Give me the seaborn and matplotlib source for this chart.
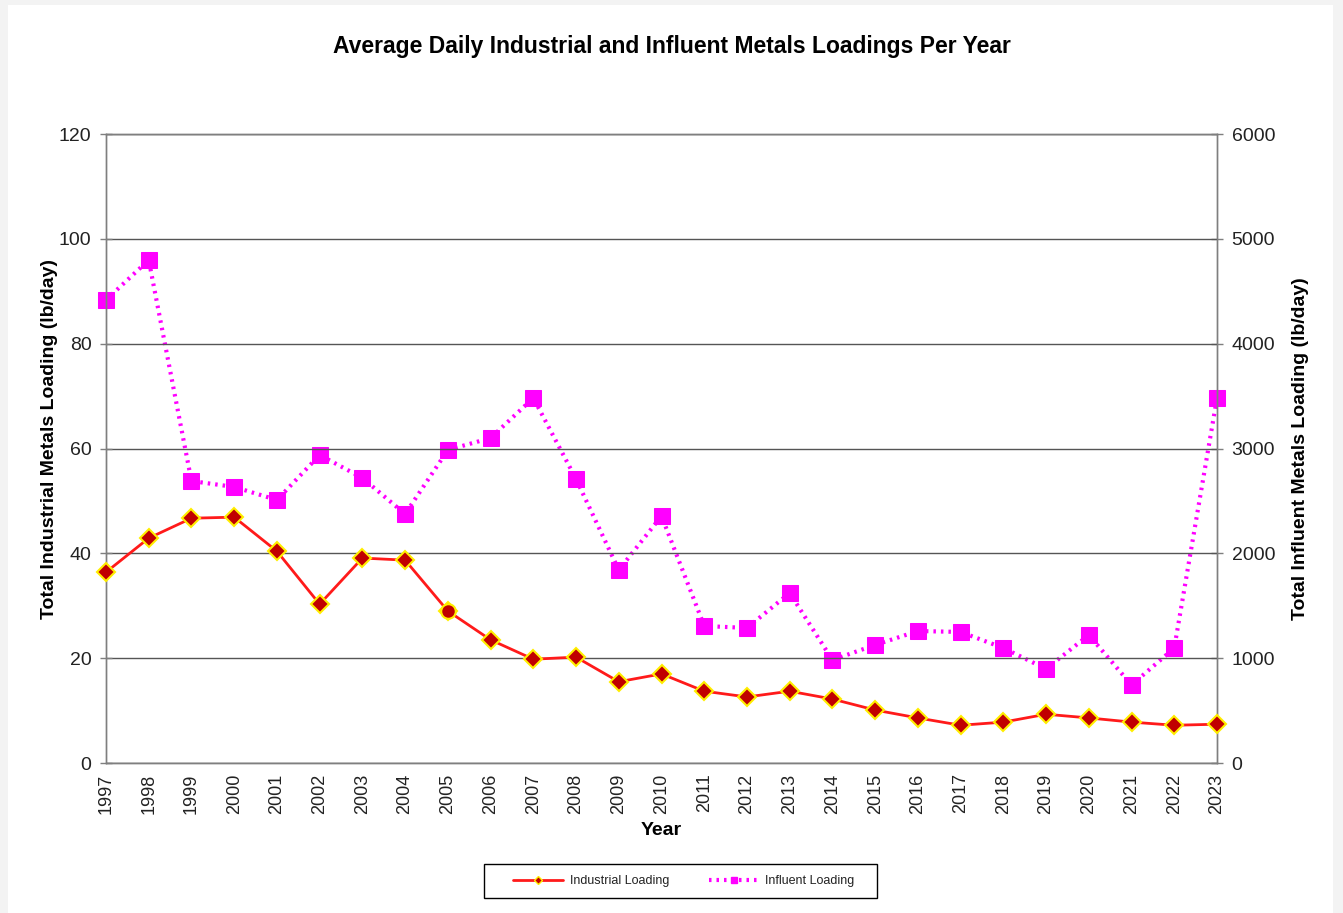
import numpy as np
import pandas as pd
import matplotlib
matplotlib.use("Agg")
import matplotlib.pyplot as plt
from matplotlib.lines import Line2D
from matplotlib.patches import Rectangle
import seaborn as sns

years = list(range(1997, 2024))
industrial = [36.4, 42.9, 46.7, 46.9, 40.4, 30.3, 39.1, 38.7, 29.0, 23.5,
              19.8, 20.2, 15.5, 17.0, 13.7, 12.6, 13.7, 12.2, 10.1, 8.6,
              7.2, 7.8, 9.3, 8.6, 7.8, 7.2, 7.4]
influent = [4417, 4798, 2690, 2633, 2509, 2938, 2719, 2375, 2986, 3100,
            3482, 2709, 1841, 2356, 1307, 1288, 1622, 983, 1126, 1259,
            1250, 1097, 897, 1221, 744, 1097, 3482]
circle_years = [2005]

df = pd.DataFrame({"year": years, "industrial": industrial, "influent": influent})

sns.set_style("white")
plt.rcParams["font.family"] = ["Liberation Sans", "DejaVu Sans"]
plt.rcParams["text.color"] = "black"
plt.rcParams["axes.labelcolor"] = "black"

W, H = 1343, 913
fig = plt.figure(figsize=(W / 100, H / 100), dpi=100)
fig.patch.set_facecolor("#f3f3f3")
# white page inside the grey border
fig.patches.append(Rectangle((8 / W, 0), 1325 / W, 1 - 5 / H,
                             transform=fig.transFigure, facecolor="white",
                             edgecolor="none", zorder=-1))

ax = fig.add_axes([106 / W, 1 - 763 / H, 1111 / W, 629 / H])
ax.set_facecolor("none")
ax2 = ax.twinx()

# influent on the right axis
sns.lineplot(data=df, x="year", y="influent", ax=ax2, color="#ff00ff",
             linewidth=3, linestyle=(0, (0.6, 1.2)), marker="s",
             markersize=12, markeredgecolor="#ff00ff", markerfacecolor="#ff00ff",
             clip_on=False)

# industrial on the left axis
sns.lineplot(data=df, x="year", y="industrial", ax=ax, color="#ff1a1a",
             linewidth=2, marker="D", markersize=9,
             markerfacecolor="#c00000", markeredgecolor="#ffee00",
             markeredgewidth=1.5, zorder=5, clip_on=False)
circ = df[df["year"].isin(circle_years)]
sns.scatterplot(data=circ, x="year", y="industrial", ax=ax, marker="o", s=110,
                color="#c00000", edgecolor="#ffee00", linewidth=1.5, zorder=6)

# industrial axes above the twin
ax.set_zorder(ax2.get_zorder() + 1)

ax.set_xlim(1997, 2023)
ax.set_ylim(0, 120)
ax2.set_ylim(0, 6000)
ax.set_yticks(range(0, 121, 20))
ax2.set_yticks(range(0, 6001, 1000))
ax.set_xticks(years)
ax.set_xticklabels([str(y) for y in years], rotation=90)

ax.yaxis.grid(True, color="#555555", linewidth=1)
ax.set_axisbelow(True)
for a in (ax, ax2):
    for s in a.spines.values():
        s.set_color("#7f7f7f")
        s.set_linewidth(1)
    a.tick_params(axis="both", labelsize=14, colors="#7f7f7f",
                  labelcolor="#222222", length=9, width=1, direction="inout",
                  pad=6)
ax.tick_params(axis="x", labelsize=13, pad=3)

ax.set_xlabel("Year", fontsize=14, fontweight="bold", labelpad=6)
ax.set_ylabel("Total Industrial Metals Loading (lb/day)", fontsize=14,
              fontweight="bold", labelpad=0)
ax.yaxis.set_label_coords(-0.043, 0.515)
ax2.set_ylabel("Total Influent Metals Loading (lb/day)", fontsize=14,
               fontweight="bold", labelpad=12)

fig.text(0.5, 1 - 47 / H, "Average Daily Industrial and Influent Metals Loadings Per Year",
         ha="center", va="center", fontsize=16.5, fontweight="bold")

handles = [
    Line2D([0], [0], color="#ff1a1a", linewidth=2, marker="D", markersize=4,
           markerfacecolor="#c00000", markeredgecolor="#ffee00"),
    Line2D([0], [0], color="#ff00ff", linewidth=3, linestyle=(0, (0.6, 1.2)),
           marker="s", markersize=5),
]
leg = fig.legend(handles, ["Industrial Loading", "Influent Loading"],
                 loc="center", bbox_to_anchor=(684 / W, 1 - 881 / H),
                 ncol=2, fontsize=9, frameon=False,
                 handlelength=4, columnspacing=3.2, handletextpad=0.5)
for t in leg.get_texts():
    t.set_color("#222222")
fig.patches.append(Rectangle((484 / W, 1 - 898 / H), 393 / W, 34 / H,
                             transform=fig.transFigure, facecolor="none",
                             edgecolor="black", linewidth=1))
for a in (ax, ax2):
    if a.get_legend():
        a.get_legend().remove()

fig.savefig("out.png", dpi=100, facecolor=fig.get_facecolor())
